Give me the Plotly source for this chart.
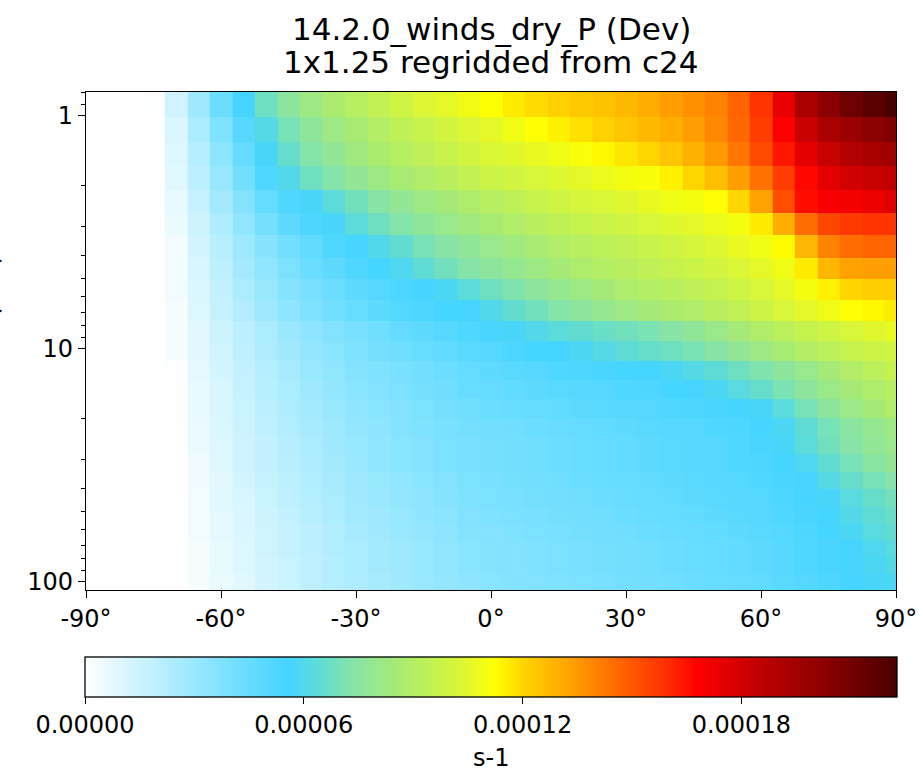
import numpy as np
import plotly.graph_objects as go

# ---------------- data ----------------
lats = [-90, -85, -80, -75, -70, -65, -60, -55, -50, -45, -40, -35, -30, -25, -20, -15, -10, -5,
        0, 5, 10, 15, 20, 25, 30, 35, 40, 45, 50, 55, 60, 65, 70, 75, 80, 85, 90]

# pressure level edges (hPa), top to bottom
pressure_edges = [0.7951, 1.0194, 1.3005, 1.6508, 2.0850, 2.6202, 3.2764, 4.0766, 5.0468,
                  6.2168, 7.6198, 9.2929, 11.2769, 13.6434, 16.4571, 19.7916, 23.7304,
                  28.3678, 33.8100, 40.1754, 47.6439, 56.3879, 66.6034, 78.5123, 92.3657,
                  108.6630]

value_unit = 1e-5  # values below in units of 1e-5 s-1
rows = [
    [0,0,0,0.1,1.4,2.9,4.4,5.6,6.8,7.6,8.2,8.7,9.1,9.5,9.9,10.3,10.6,10.9,11.2,11.6,11.9,12.1,12.3,12.5,12.7,13.0,13.4,13.7,14.0,14.7,15.8,17.4,19.2,20.3,21.2,21.8,22.3],
    [0,0,0,0,1.1,2.5,3.8,5.0,6.1,7.0,7.7,8.2,8.6,9.0,9.4,9.7,10.0,10.3,10.6,10.9,11.2,11.5,11.8,12.1,12.4,12.7,13.0,13.4,13.9,14.6,15.6,16.9,18.2,19.2,19.8,20.3,20.7],
    [0,0,0,0,1.0,2.2,3.4,4.6,5.7,6.6,7.3,7.8,8.3,8.7,9.1,9.4,9.7,10.0,10.3,10.5,10.7,10.9,11.1,11.4,11.7,12.0,12.4,12.9,13.5,14.3,15.3,16.4,17.5,18.3,18.9,19.3,19.6],
    [0,0,0,0,0.9,2.0,3.1,4.2,5.2,6.0,6.8,7.3,7.8,8.2,8.6,8.9,9.2,9.5,9.8,10.0,10.2,10.4,10.6,10.8,11.0,11.1,11.5,12.0,12.6,13.4,14.4,15.6,16.7,17.5,18.0,18.3,18.5],
    [0,0,0,0,0.7,1.7,2.7,3.7,4.6,5.2,5.7,6.3,6.9,7.4,7.8,8.2,8.5,8.8,9.1,9.4,9.7,9.9,10.1,10.3,10.5,10.7,10.9,11.0,11.2,12.0,13.3,15.2,16.6,17.0,17.1,17.3,17.6],
    [0,0,0,0,0.6,1.5,2.4,3.3,4.1,4.8,5.3,5.7,6.3,6.8,7.3,7.7,8.0,8.3,8.6,8.9,9.2,9.4,9.6,9.8,10.0,10.2,10.4,10.6,10.8,11.0,11.6,13.0,14.5,15.4,15.7,15.8,15.8],
    [0,0,0,0,0.4,1.3,2.1,2.9,3.6,4.2,4.7,5.2,5.5,6.0,6.5,7.0,7.4,7.7,8.0,8.3,8.6,8.9,9.1,9.3,9.5,9.7,9.9,10.1,10.4,10.7,10.9,11.3,12.8,14.0,14.5,14.7,14.7],
    [0,0,0,0,0.4,1.2,2.0,2.7,3.3,3.9,4.4,4.8,5.2,5.5,5.9,6.4,6.9,7.3,7.6,7.9,8.2,8.5,8.8,9.0,9.2,9.4,9.6,9.8,10.0,10.3,10.6,10.9,11.6,12.8,13.3,13.4,13.4],
    [0,0,0,0,0.4,1.1,1.8,2.5,3.1,3.6,4.0,4.4,4.8,5.1,5.3,5.5,5.8,6.3,6.8,7.2,7.6,7.9,8.2,8.5,8.8,9.0,9.2,9.4,9.6,9.9,10.2,10.6,11.0,11.5,12.0,12.2,12.2],
    [0,0,0,0,0.3,1.0,1.7,2.3,2.9,3.4,3.8,4.2,4.5,4.8,5.1,5.3,5.5,5.6,6.0,6.5,6.9,7.3,7.6,7.9,8.2,8.5,8.7,8.9,9.2,9.5,9.8,10.2,10.6,10.9,11.2,11.4,11.6],
    [0,0,0,0,0.3,0.9,1.5,2.0,2.5,3.0,3.4,3.7,4.0,4.3,4.6,4.8,5.0,5.2,5.4,5.7,6.0,6.3,6.5,6.7,6.9,7.1,7.4,7.7,8.1,8.5,8.9,9.3,9.6,9.9,10.2,10.5,10.7],
    [0,0,0,0,0.3,0.9,1.4,1.9,2.4,2.8,3.2,3.5,3.8,4.1,4.3,4.5,4.7,4.9,5.1,5.3,5.5,5.6,5.8,6.1,6.4,6.6,6.8,7.1,7.4,7.8,8.2,8.6,9.0,9.3,9.6,9.8,10.0],
    [0,0,0,0,0.1,0.8,1.3,1.8,2.2,2.6,3.0,3.3,3.6,3.8,4.0,4.2,4.4,4.6,4.8,4.9,5.0,5.2,5.3,5.4,5.5,5.6,5.8,6.1,6.4,6.8,7.2,7.6,8.0,8.5,8.9,9.3,9.6],
    [0,0,0,0,0.1,0.7,1.2,1.7,2.1,2.5,2.9,3.2,3.5,3.7,3.9,4.1,4.3,4.5,4.6,4.7,4.8,4.9,5.0,5.1,5.2,5.3,5.5,5.6,5.8,6.2,6.6,7.1,7.6,8.1,8.5,8.8,9.1],
    [0,0,0,0,0.1,0.7,1.2,1.6,2.0,2.4,2.7,3.0,3.3,3.5,3.7,3.9,4.1,4.3,4.4,4.5,4.6,4.7,4.8,4.9,5.0,5.1,5.2,5.3,5.4,5.5,5.7,6.3,7.0,7.6,8.1,8.5,8.9],
    [0,0,0,0,0,0.6,1.1,1.5,1.9,2.3,2.6,2.9,3.2,3.4,3.6,3.8,4.0,4.1,4.2,4.3,4.4,4.5,4.6,4.7,4.8,4.9,5.0,5.1,5.2,5.3,5.5,5.8,6.4,7.0,7.5,7.9,8.2],
    [0,0,0,0,0,0.6,1.0,1.4,1.8,2.2,2.5,2.8,3.1,3.3,3.5,3.7,3.9,4.0,4.1,4.2,4.3,4.4,4.5,4.6,4.7,4.8,4.9,5.0,5.1,5.2,5.4,5.7,6.3,6.9,7.4,7.8,8.0],
    [0,0,0,0,0,0.5,1.0,1.4,1.8,2.1,2.4,2.7,3.0,3.3,3.5,3.7,3.9,4.0,4.1,4.2,4.3,4.4,4.5,4.6,4.7,4.8,4.9,5.0,5.1,5.2,5.3,5.5,5.9,6.5,7.0,7.5,7.8],
    [0,0,0,0,0,0.5,0.9,1.3,1.7,2.0,2.3,2.6,2.9,3.1,3.3,3.5,3.7,3.9,4.0,4.1,4.2,4.3,4.4,4.5,4.6,4.7,4.8,4.9,5.0,5.1,5.2,5.4,5.6,6.1,6.6,7.0,7.3],
    [0,0,0,0,0,0.4,0.9,1.2,1.6,1.9,2.2,2.5,2.8,3.0,3.2,3.4,3.6,3.8,3.9,4.0,4.1,4.2,4.3,4.4,4.5,4.6,4.7,4.8,4.9,5.0,5.1,5.3,5.5,5.7,6.2,6.6,6.9],
    [0,0,0,0,0,0.4,0.8,1.1,1.5,1.8,2.1,2.4,2.7,2.9,3.1,3.3,3.5,3.7,3.8,3.9,4.0,4.1,4.2,4.3,4.4,4.5,4.6,4.7,4.8,4.9,5.0,5.2,5.4,5.6,6.0,6.4,6.7],
    [0,0,0,0,0,0.4,0.8,1.1,1.4,1.7,2.0,2.3,2.6,2.8,3.0,3.2,3.4,3.6,3.7,3.8,3.9,4.0,4.1,4.2,4.3,4.4,4.5,4.6,4.7,4.8,4.9,5.1,5.3,5.5,5.8,6.2,6.5],
    [0,0,0,0,0,0.3,0.7,1.0,1.4,1.7,2.0,2.3,2.5,2.7,2.9,3.1,3.3,3.5,3.6,3.7,3.8,3.9,4.0,4.1,4.2,4.3,4.4,4.5,4.6,4.7,4.8,5.0,5.2,5.4,5.6,5.9,6.2],
    [0,0,0,0,0,0.3,0.7,1.0,1.3,1.6,1.9,2.2,2.5,2.7,2.9,3.1,3.3,3.5,3.6,3.7,3.8,3.9,4.0,4.1,4.2,4.3,4.4,4.5,4.6,4.7,4.8,5.0,5.2,5.4,5.5,5.8,6.0],
    [0,0,0,0,0,0.3,0.6,0.9,1.3,1.6,1.9,2.2,2.4,2.6,2.8,3.0,3.2,3.4,3.5,3.6,3.7,3.8,3.9,4.0,4.1,4.2,4.3,4.4,4.5,4.6,4.7,4.9,5.1,5.3,5.5,5.7,5.8],
]

x_tick_vals = [-90, -60, -30, 0, 30, 60, 90]
x_tick_text = ["-90°", "-60°", "-30°", "0°", "30°", "60°", "90°"]
y_tick_vals = [1, 10, 100]
y_tick_text = ["1", "10", "100"]
y_minor_vals = [0.8, 0.9, 2, 3, 4, 5, 6, 7, 8, 9, 20, 30, 40, 50, 60, 70, 80, 90]
cbar_tick_vals = [0.0, 0.00006, 0.00012, 0.00018]
cbar_tick_text = ["0.00000", "0.00006", "0.00012", "0.00018"]
vmax = 0.0002227

title_lines = ["14.2.0_winds_dry_P (Dev)", "1x1.25 regridded from c24"]
ylabel = "Pressure (hPa)"
cbar_label = "s-1"

for r in rows:
    assert len(r) == len(lats), len(r)
assert len(rows) == len(pressure_edges) - 1

z = np.array(rows, dtype=float) * value_unit

colorscale = [
    [0.000, "#ffffff"],
    [0.250, "#44d4ff"],
    [0.290, "#60dcd2"],
    [0.330, "#86e4a8"],
    [0.380, "#a4ea78"],
    [0.430, "#c4f250"],
    [0.470, "#e0f830"],
    [0.505, "#ffff00"],
    [0.540, "#ffd400"],
    [0.600, "#ffa000"],
    [0.660, "#ff6400"],
    [0.720, "#ff2a00"],
    [0.755, "#ff0000"],
    [0.830, "#c00000"],
    [0.910, "#8c0000"],
    [1.000, "#4a0000"],
]

FONT = "DejaVu Sans"
TICK_SIZE = 24
L, R, T, B = 86, 27, 92, 187
W, H = 923, 777
plot_h = H - T - B
plot_w = W - L - R


def py(pix):
    """pixel row -> paper y"""
    return (H - B - pix) / plot_h


def px(pix):
    """pixel column -> paper x"""
    return (pix - L) / plot_w


fig = go.Figure(
    go.Heatmap(
        x=lats,
        y=pressure_edges,
        z=z,
        zmin=0,
        zmax=vmax,
        colorscale=colorscale,
        zsmooth=False,
        colorbar=dict(
            orientation="h",
            x=0.5,
            xanchor="center",
            y=py(657),
            yanchor="top",
            lenmode="pixels",
            len=plot_w + 2,
            thickness=40,
            thicknessmode="pixels",
            xpad=0,
            ypad=0,
            outlinewidth=1.3,
            outlinecolor="black",
            ticks="outside",
            ticklen=7,
            tickwidth=1.3,
            tickcolor="black",
            tickvals=cbar_tick_vals,
            ticktext=cbar_tick_text,
            tickfont=dict(family=FONT, size=TICK_SIZE, color="black"),
        ),
    )
)

axis_common = dict(
    ticks="outside",
    ticklen=7,
    tickwidth=1.3,
    tickcolor="black",
    showline=True,
    linecolor="black",
    linewidth=1.3,
    mirror=True,
    showgrid=False,
    zeroline=False,
    automargin=False,
    tickfont=dict(family=FONT, size=TICK_SIZE, color="black"),
)

annotations = [
    dict(text=title_lines[0], xref="paper", yref="paper", x=0.5, y=py(29),
         xanchor="center", yanchor="middle", showarrow=False,
         font=dict(family=FONT, size=31, color="black")),
    dict(text=title_lines[1], xref="paper", yref="paper", x=0.5, y=py(62),
         xanchor="center", yanchor="middle", showarrow=False,
         font=dict(family=FONT, size=31, color="black")),
    dict(text=ylabel, textangle=-90, xref="paper", yref="paper",
         x=px(-10), y=0.5, xanchor="center", yanchor="middle", showarrow=False,
         font=dict(family=FONT, size=TICK_SIZE, color="black")),
    dict(text=cbar_label, xref="paper", yref="paper", x=0.5, y=py(758),
         xanchor="center", yanchor="middle", showarrow=False,
         font=dict(family=FONT, size=TICK_SIZE, color="black")),
]

fig.update_layout(
    width=W,
    height=H,
    margin=dict(l=L, r=R, t=T, b=B, pad=0, autoexpand=False),
    paper_bgcolor="white",
    plot_bgcolor="white",
    font=dict(family=FONT, color="black", size=TICK_SIZE),
    xaxis=dict(range=[-90, 90], tickvals=x_tick_vals, ticktext=x_tick_text, **axis_common),
    yaxis=dict(
        type="log",
        range=[np.log10(pressure_edges[-1]), np.log10(pressure_edges[0])],
        tickvals=y_tick_vals,
        ticktext=y_tick_text,
        minor=dict(tickvals=y_minor_vals, ticks="outside", ticklen=3.5, tickwidth=1.1,
                   tickcolor="black", showgrid=False),
        **axis_common,
    ),
    annotations=annotations,
)

# remove the browser's default 8px page margin so the figure sits at the window origin
fig.write_html(
    "out.html",
    config={"displayModeBar": False},
    post_script="document.body.style.margin='0';",
)
